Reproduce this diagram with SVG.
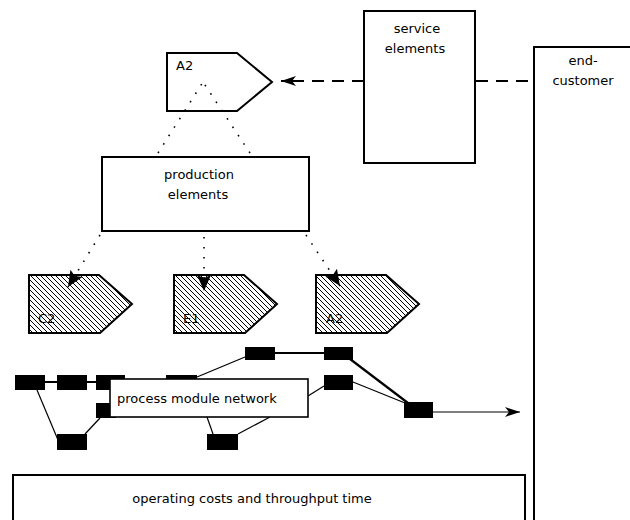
<svg xmlns="http://www.w3.org/2000/svg" width="630" height="520" viewBox="0 0 630 520">
<style>
  text { font-family: "DejaVu Sans", "Liberation Sans", sans-serif; font-size: 13px; fill: #000; }
  .box { fill: #fff; stroke: #000; stroke-width: 2; }
  .hatch { fill: url(#hatch); stroke: #000; stroke-width: 2; }
  .mod { fill: #000; stroke: none; }
  .thin { fill: none; stroke: #000; stroke-width: 1.2; }
  .thick { fill: none; stroke: #000; stroke-width: 2.2; }
  .dot { fill: none; stroke: #000; stroke-width: 1.6; stroke-dasharray: 1.6 8.4; }
  .dash { fill: none; stroke: #000; stroke-width: 2; stroke-dasharray: 12 8; }
</style>
<defs>
  <pattern id="hatch" patternUnits="userSpaceOnUse" width="5" height="5">
    <rect width="5" height="5" fill="#fff"/>
    <path d="M0,0 L5,5 M-1,4 L1,6 M4,-1 L6,1" stroke="#000" stroke-width="1"/>
  </pattern>
  <marker id="arr" markerUnits="userSpaceOnUse" markerWidth="18" markerHeight="12" refX="15" refY="6" orient="auto" overflow="visible">
    <path d="M0,1 L15,6 L0,11 L4,6 z" fill="#000"/>
  </marker>
  <marker id="arrb" markerUnits="userSpaceOnUse" markerWidth="20" markerHeight="14" refX="16" refY="7" orient="auto" overflow="visible">
    <path d="M0,0 L16,7 L0,14 L3,7 z" fill="#000"/>
  </marker>
</defs>

<g id="end-customer">
  <rect class="box" x="534" y="47" width="120" height="500"/>
  <text x="583" y="65" text-anchor="middle">end-</text>
  <text x="583" y="85" text-anchor="middle">customer</text>
</g>

<g id="service-elements">
  <rect class="box" x="364" y="11" width="111" height="152"/>
  <text x="417" y="33" text-anchor="middle">service</text>
  <text x="415" y="53" text-anchor="middle">elements</text>
</g>

<g id="A2-top">
  <path d="M167,53 L237,53 L272,82 L237,111 L167,111 Z" fill="none" stroke="#000" stroke-width="2"/>
  <text x="176" y="70">A2</text>
</g>

<g id="production-elements">
  <rect class="box" x="102" y="157" width="207" height="74"/>
  <text x="199" y="179" text-anchor="middle">production</text>
  <text x="198" y="199" text-anchor="middle">elements</text>
</g>

<g id="C2">
  <path class="hatch" d="M29,275 L99,275 L132,304 L100,333 L29,333 Z"/>
  <text x="38" y="323">C2</text>
</g>
<g id="E1">
  <path class="hatch" d="M174,275 L244,275 L277,304 L245,333 L174,333 Z"/>
  <text x="183" y="323">E1</text>
</g>
<g id="A2">
  <path class="hatch" d="M316,275 L386,275 L419,304 L387,333 L316,333 Z"/>
  <text x="326" y="323">A2</text>
</g>

<g id="connectors">
  <line class="dash" x1="364" y1="81" x2="281" y2="81" marker-end="url(#arr)"/>
  <line class="dash" x1="476" y1="81" x2="533" y2="81"/>
  <line class="dot" x1="158" y1="153" x2="203" y2="82"/>
  <line class="dot" x1="250" y1="153" x2="203" y2="82"/>
  <line class="dot" x1="100" y1="235" x2="68" y2="287" marker-end="url(#arrb)"/>
  <line class="dot" x1="204" y1="237" x2="204" y2="291" marker-end="url(#arrb)"/>
  <line class="dot" x1="306" y1="235" x2="340" y2="286" marker-end="url(#arrb)"/>
</g>

<g id="network-links">
  <line class="thick" x1="45" y1="382" x2="96" y2="382"/>
  <line class="thin" x1="37" y1="390" x2="58" y2="440"/>
  <line class="thin" x1="85" y1="434" x2="100" y2="418"/>
  <line class="thin" x1="197" y1="377" x2="245" y2="357"/>
  <line class="thick" x1="275" y1="353" x2="324" y2="353"/>
  <line class="thick" x1="350" y1="359" x2="408" y2="403"/>
  <line class="thin" x1="353" y1="382" x2="405" y2="403"/>
  <line class="thin" x1="308" y1="396" x2="324" y2="386"/>
  <line class="thin" x1="207" y1="417" x2="213" y2="434"/>
  <line class="thin" x1="238" y1="434" x2="270" y2="417"/>
  <line class="thin" x1="433" y1="412" x2="520" y2="412" marker-end="url(#arr)"/>
</g>

<g id="modules">
  <rect class="mod" x="15" y="375" width="30" height="15"/>
  <rect class="mod" x="57" y="375" width="30" height="15"/>
  <rect class="mod" x="96" y="375" width="29" height="15"/>
  <rect class="mod" x="166" y="375" width="31" height="15"/>
  <rect class="mod" x="96" y="403" width="20" height="15"/>
  <rect class="mod" x="245" y="347" width="30" height="13"/>
  <rect class="mod" x="324" y="347" width="29" height="13"/>
  <rect class="mod" x="324" y="375" width="29" height="15"/>
  <rect class="mod" x="404" y="402" width="29" height="16"/>
  <rect class="mod" x="57" y="434" width="30" height="16"/>
  <rect class="mod" x="207" y="434" width="31" height="16"/>
</g>

<g id="process-module-network">
  <rect x="110" y="379" width="198" height="38" fill="#fff" stroke="#000" stroke-width="1.6"/>
  <text x="117" y="403">process module network</text>
</g>

<g id="operating-costs">
  <rect class="box" x="13" y="475" width="512" height="80"/>
  <text x="252" y="503" text-anchor="middle">operating costs and throughput time</text>
</g>
</svg>
